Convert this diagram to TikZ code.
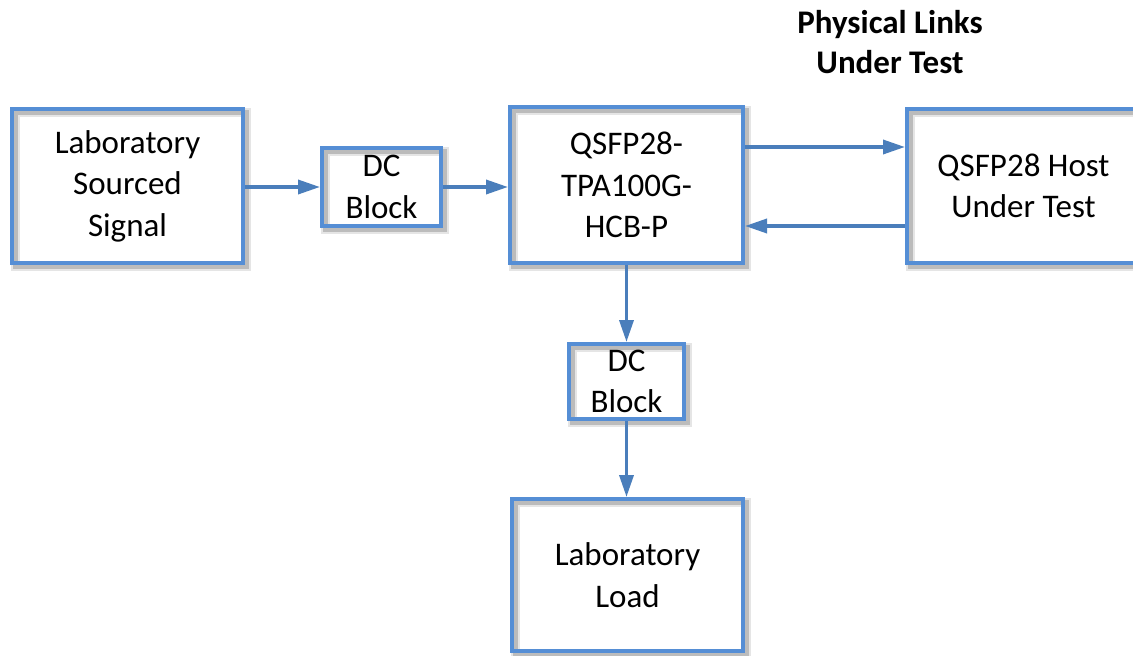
\documentclass[tikz,border=0pt]{standalone}
\usepackage{fontspec}
\setmainfont{Carlito}
\usetikzlibrary{arrows.meta,calc}
\definecolor{boxblue}{RGB}{85,142,213}
\definecolor{arrblue}{RGB}{74,126,187}
\tikzset{
  blk/.style={draw=boxblue, line width=4pt, align=center, inner sep=0pt,
    font=\fontsize{33}{41.5}\selectfont,
    preaction={fill=white},
    preaction={draw=black, draw opacity=0.10, line width=9pt, transform canvas={xshift=3pt,yshift=-3pt}},
    preaction={draw=black, draw opacity=0.18, line width=5pt, transform canvas={xshift=3pt,yshift=-3pt}}},
  arr/.style={draw=arrblue, line width=3.5pt, -{Triangle[length=22pt,width=14pt]}},
  ttl/.style={align=center, font=\bfseries\fontsize{33}{40}\selectfont}
}
\begin{document}
\begin{tikzpicture}[x=1pt,y=-1pt]
\useasboundingbox (0,0) rectangle (1133,656);
\clip (0,0) rectangle (1133,656);
\node[blk, minimum width=231pt, minimum height=154pt] (src) at (127.5,186) {Laboratory\\Sourced\\Signal};
\node[blk, minimum width=119pt, minimum height=78pt] (dc1) at (381.5,187) {DC\\Block};
\node[blk, minimum width=233pt, minimum height=156pt] (qsfp) at (626.5,185) {QSFP28-\\TPA100G-\\HCB-P};
\node[blk, minimum width=233pt, minimum height=154pt] (host) at (1023.5,186) {QSFP28 Host\\Under Test};
\node[blk, minimum width=115pt, minimum height=75pt] (dc2) at (626.5,381.5) {DC\\Block};
\node[blk, minimum width=231pt, minimum height=152pt] (load) at (627.5,575) {Laboratory\\Load};
\node[ttl] (title) at (890,42) {Physical Links\\Under Test};
\draw[arr] (src.east |- dc1.west) -- (dc1.west);
\draw[arr] (dc1.east) -- (dc1.east -| qsfp.west);
\draw[arr] ([yshift=38pt]qsfp.east) -- ([yshift=38pt]qsfp.east -| host.west);
\draw[arr] ([yshift=-40pt]host.west) -- ([yshift=-40pt]host.west -| qsfp.east);
\draw[arr] (qsfp.south) -- (dc2.north);
\draw[arr] (dc2.south) -- (dc2.south |- load.north);
\end{tikzpicture}
\end{document}
